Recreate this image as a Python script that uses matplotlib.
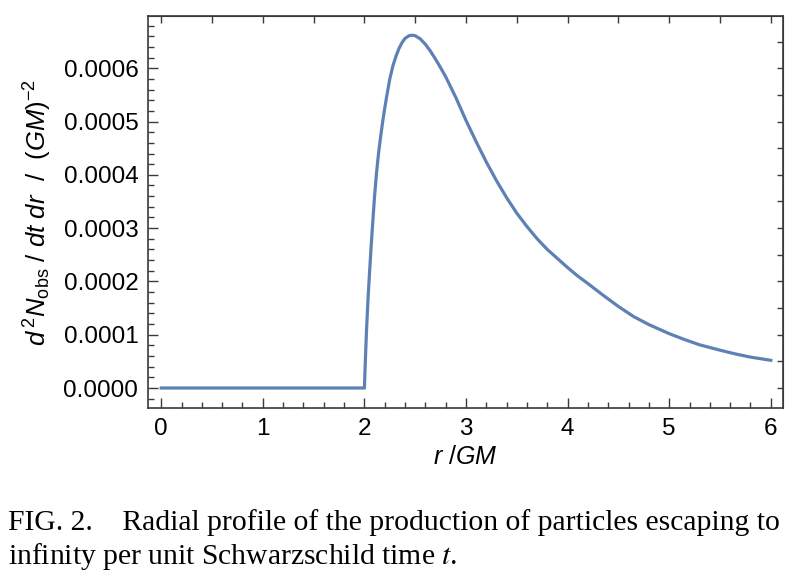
import numpy as np
import matplotlib.pyplot as plt
from matplotlib.ticker import MultipleLocator, FormatStrFormatter

# mathtext in an Arial-like font, to look like the Mathematica output
plt.rcParams['mathtext.fontset'] = 'custom'
plt.rcParams['mathtext.rm'] = 'Liberation Sans'
plt.rcParams['mathtext.it'] = 'Liberation Sans:italic'
plt.rcParams['font.family'] = ['Liberation Sans', 'DejaVu Sans']

# radial profile (values in units of 1e-4)
r_vals = [0.0, 2.0, 2.01, 2.02, 2.035, 2.05, 2.065, 2.08, 2.1, 2.12, 2.14,
          2.16, 2.18, 2.2, 2.22, 2.25, 2.28, 2.31, 2.34, 2.37, 2.4, 2.44, 2.47,
          2.5, 2.55, 2.6, 2.65, 2.7, 2.75, 2.8, 2.9, 3.0, 3.1, 3.2, 3.3, 3.4,
          3.5, 3.6, 3.7, 3.8, 3.9, 4.0, 4.1, 4.2, 4.35, 4.5, 4.65, 4.8, 5.0,
          5.15, 5.3, 5.5, 5.65, 5.8, 6.0]
rate_e4 = [0.0, 0.0, 0.55, 1.05, 1.65, 2.15, 2.62, 3.05, 3.6, 4.05, 4.42,
           4.72, 5.0, 5.25, 5.48, 5.8, 6.04, 6.22, 6.37, 6.48, 6.56, 6.61, 6.62,
           6.61, 6.55, 6.45, 6.32, 6.17, 6.01, 5.84, 5.45, 5.02, 4.62, 4.24, 3.89,
           3.57, 3.28, 3.03, 2.8, 2.6, 2.43, 2.26, 2.1, 1.96, 1.74, 1.53, 1.34,
           1.19, 1.02, 0.91, 0.81, 0.71, 0.64, 0.58, 0.52]

x_ticks = [0, 1, 2, 3, 4, 5, 6]
y_ticks = [0.0, 0.0001, 0.0002, 0.0003, 0.0004, 0.0005, 0.0006]

caption_1 = "FIG. 2.    Radial profile of the production of particles escaping to"
caption_2 = "infinity per unit Schwarzschild time $t$."

rate = np.array(rate_e4) * 1e-4
frame_col = '#3a3a3a'

fig = plt.figure(figsize=(8, 5.85), dpi=100)
ax = fig.add_axes([148 / 800, 1 - 408 / 585, (783 - 148) / 800, (408 - 16) / 585])

ax.plot(r_vals, rate, color='#5E81B5', lw=2.3, solid_joinstyle='round')

ax.set_xlim(-0.13, 6.12)
ax.set_ylim(-0.0000375, 0.000698)
ax.set_xticks(x_ticks)
ax.set_yticks(y_ticks)
ax.xaxis.set_minor_locator(MultipleLocator(0.2))
ax.yaxis.set_minor_locator(MultipleLocator(0.00002))
ax.yaxis.set_major_formatter(FormatStrFormatter('%.4f'))

for s in ax.spines.values():
    s.set_color(frame_col)
    s.set_linewidth(1.2)

ax.tick_params(which='both', direction='in', color=frame_col, width=1.0,
               labelsize=17.5, top=False, right=False)
ax.tick_params(which='major', length=7, pad=7)
ax.tick_params(which='minor', length=4)

# top and right frames carry their own finer tick marks
top = ax.secondary_xaxis('top')
top.set_xticks(np.arange(0, 6.01, 0.5))
top.tick_params(direction='in', length=5, width=1.0, color=frame_col, labeltop=False)
top.spines['top'].set_color(frame_col)

right = ax.secondary_yaxis('right')
right.set_yticks(np.arange(0, 0.00069, 0.00005))
right.tick_params(direction='in', length=4, width=1.0, color=frame_col, labelright=False)
right.spines['right'].set_color(frame_col)

ax.set_xlabel(r'$r\ /GM$', fontsize=18, labelpad=4)
ax.set_ylabel(r'$d^{\,2}N_{\mathrm{obs}}\ /\ dt\ dr\ \ /\ \ (GM)^{-2}$', fontsize=18.5, labelpad=7)

fig.text(0.01, 1 - 523 / 585, caption_1, family='Liberation Serif', fontsize=21.3, va='center')
fig.text(0.01, 1 - 556 / 585, caption_2, family='Liberation Serif', fontsize=21.3, va='center',
         math_fontfamily='stix')

fig.savefig('out.png', dpi=100)
